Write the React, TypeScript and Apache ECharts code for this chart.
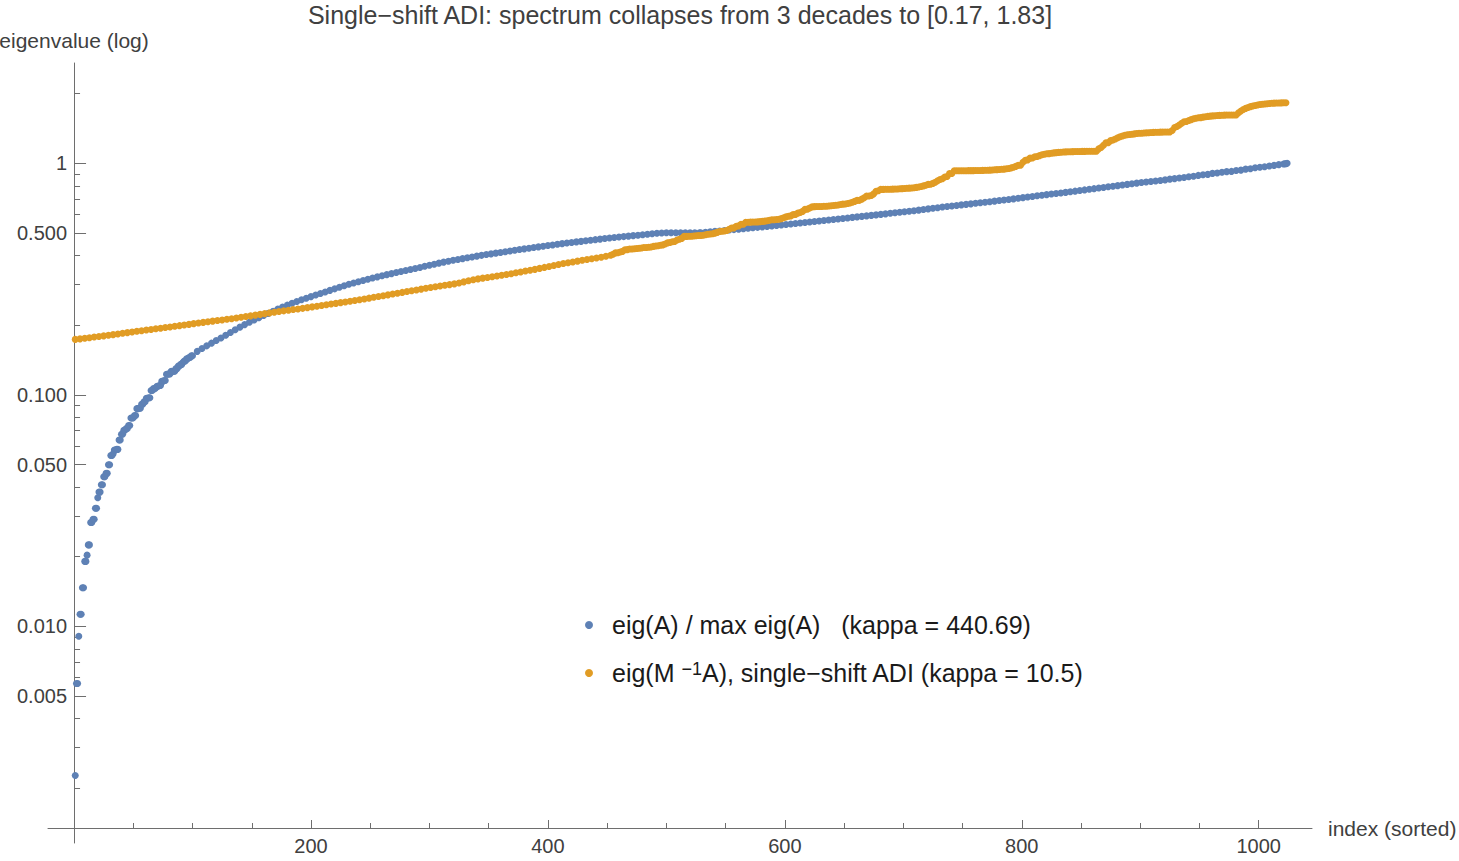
import React, { useEffect, useRef } from "react";
import * as echarts from "echarts";

const FONT = '"Liberation Sans", Arial, Helvetica, sans-serif';
const BLUE = "#5E81B5";
const ORANGE = "#E19C24";
const AXIS_GRAY = "#6E6E6E";
const LABEL_GRAY = "#404040";

const TITLE = "Single\u2212shift ADI: spectrum collapses from 3 decades to [0.17, 1.83]";
const BLUE_NAME = "eig(A) / max eig(A)   (kappa = 440.69)";
const ORANGE_NAME = "eig(M \u22121A), single\u2212shift ADI (kappa = 10.5)";

// eig(A) / max eig(A), sorted ascending. Ranks 1..100, one value per rank.
const blueLow = [
  0.002269, 0.005663, 0.005663, 0.009056, 0.01128, 0.01128, 0.01468, 0.01468, 0.01908, 0.01908,
  0.0203, 0.02248, 0.02248, 0.0281, 0.0281, 0.02899, 0.02899, 0.03238, 0.03238, 0.0359,
  0.038, 0.038, 0.04091, 0.04091, 0.04431, 0.04431, 0.0458, 0.0458, 0.04993, 0.04993,
  0.05474, 0.05474, 0.0557, 0.05773, 0.05773, 0.05813, 0.05813, 0.06376, 0.06376, 0.06763,
  0.06763, 0.07036, 0.07036, 0.07155, 0.07155, 0.07375, 0.07375, 0.07937, 0.07937, 0.07955,
  0.08146, 0.08146, 0.08717, 0.08717, 0.08762, 0.08762, 0.09101, 0.09101, 0.09338, 0.09338,
  0.09663, 0.09663, 0.09707, 0.09707, 0.1044, 0.1044, 0.1064, 0.1064, 0.1072, 0.109,
  0.109, 0.1098, 0.1098, 0.1143, 0.1143, 0.1154, 0.1154, 0.1228, 0.1228, 0.1232,
  0.1232, 0.1263, 0.1263, 0.1264, 0.1264, 0.1298, 0.1298, 0.1331, 0.1331, 0.1354,
  0.1354, 0.1384, 0.1401, 0.1401, 0.1432, 0.1432, 0.145, 0.145, 0.1476, 0.1476,
];
// Ranks 104..528, every 4th rank.
const BLUE_MID_START = 104;
const BLUE_MID_STEP = 4;
const blueMid = [
  0.1541, 0.1585, 0.1628, 0.1672, 0.1716, 0.176, 0.181, 0.186, 0.1911, 0.1961,
  0.2011, 0.2059, 0.2106, 0.2154, 0.2201, 0.2249, 0.2297, 0.2345, 0.2393, 0.244,
  0.2488, 0.2532, 0.2574, 0.2615, 0.2657, 0.2699, 0.274, 0.2783, 0.2827, 0.287,
  0.2914, 0.2958, 0.3002, 0.3041, 0.3079, 0.3118, 0.3156, 0.3195, 0.3233, 0.327,
  0.3305, 0.3339, 0.3374, 0.3409, 0.3443, 0.3478, 0.3513, 0.3551, 0.359, 0.3628,
  0.3667, 0.3706, 0.3744, 0.3779, 0.3811, 0.3844, 0.3876, 0.3908, 0.394, 0.3973,
  0.4005, 0.4035, 0.4064, 0.4094, 0.4123, 0.4153, 0.4182, 0.4212, 0.4242, 0.4271,
  0.4299, 0.4328, 0.4356, 0.4385, 0.4414, 0.4442, 0.4471, 0.4499, 0.4526, 0.4552,
  0.4578, 0.4603, 0.4629, 0.4655, 0.4681, 0.4706, 0.4732, 0.4758, 0.4781, 0.4804,
  0.4826, 0.4849, 0.4872, 0.4894, 0.4917, 0.494, 0.4963, 0.4985, 0.5005, 0.5011,
  0.5011, 0.5011, 0.5011, 0.5011, 0.5011, 0.5011, 0.5011,
];
// Ranks 529..1021, every 4th rank.
const BLUE_HIGH_START = 529;
const BLUE_HIGH_STEP = 4;
const blueHigh = [
  0.5018, 0.5038, 0.506, 0.5083, 0.5106, 0.5129, 0.5151, 0.5174, 0.5197, 0.5219,
  0.5242, 0.5265, 0.5291, 0.5317, 0.5342, 0.5368, 0.5394, 0.542, 0.5445, 0.5471,
  0.5497, 0.5524, 0.5552, 0.5581, 0.5609, 0.5638, 0.5667, 0.5695, 0.5724, 0.5752,
  0.5781, 0.5811, 0.5841, 0.587, 0.59, 0.5929, 0.5959, 0.5988, 0.6018, 0.605,
  0.6083, 0.6115, 0.6147, 0.6179, 0.6212, 0.6244, 0.6279, 0.6317, 0.6356, 0.6395,
  0.6433, 0.6472, 0.651, 0.6545, 0.658, 0.6614, 0.6649, 0.6684, 0.6718, 0.6753,
  0.679, 0.6828, 0.6867, 0.6905, 0.6944, 0.6982, 0.7021, 0.7065, 0.7109, 0.7153,
  0.7196, 0.724, 0.7283, 0.7324, 0.7366, 0.7408, 0.7449, 0.7491, 0.7535, 0.7583,
  0.763, 0.7678, 0.7726, 0.7774, 0.7822, 0.7869, 0.7917, 0.7964, 0.8012, 0.8062,
  0.8112, 0.8163, 0.8213, 0.8263, 0.8307, 0.8351, 0.8395, 0.8438, 0.8482, 0.8547,
  0.859, 0.8638, 0.8692, 0.8759, 0.8791, 0.8869, 0.8925, 0.8959, 0.9052, 0.9089,
  0.9147, 0.9208, 0.9229, 0.9307, 0.9346, 0.9441, 0.9475, 0.9565, 0.9614, 0.9664,
  0.9733, 0.9798, 0.9876, 0.9932,
];
// Ranks 1022..1024.
const BLUE_TOP_START = 1022;
const blueTop = [0.9966, 0.9966, 1];

// eig(M^-1 A) for the single-shift ADI preconditioner, sorted ascending.
// Ranks 1..449, every 4th rank.
const ORANGE_LOW_START = 1;
const ORANGE_LOW_STEP = 4;
const orangeLow = [
  0.1736, 0.1745, 0.1756, 0.1766, 0.1777, 0.1788, 0.1798, 0.1809, 0.182, 0.1832,
  0.1844, 0.1857, 0.1869, 0.1881, 0.1893, 0.1905, 0.1917, 0.1929, 0.1941, 0.1953,
  0.1964, 0.1977, 0.199, 0.2003, 0.2016, 0.203, 0.2043, 0.2056, 0.2069, 0.2082,
  0.2094, 0.2107, 0.212, 0.2132, 0.2147, 0.2163, 0.2179, 0.2194, 0.221, 0.2226,
  0.2243, 0.2259, 0.2275, 0.2291, 0.2306, 0.2321, 0.2335, 0.235, 0.2364, 0.2381,
  0.2398, 0.2415, 0.2432, 0.2449, 0.2467, 0.2484, 0.2502, 0.252, 0.2538, 0.2557,
  0.2576, 0.2595, 0.2616, 0.2638, 0.266, 0.2681, 0.2703, 0.2725, 0.2747, 0.277,
  0.2793, 0.2816, 0.2839, 0.2862, 0.2885, 0.2907, 0.2928, 0.295, 0.2972, 0.2993,
  0.3015, 0.3043, 0.3076, 0.3108, 0.314, 0.3169, 0.3192, 0.3215, 0.3237, 0.326,
  0.3283, 0.3308, 0.3337, 0.3366, 0.3396, 0.3425, 0.3454, 0.3484, 0.3517, 0.3552,
  0.3587, 0.3622, 0.3657, 0.3691, 0.3721, 0.3751, 0.3781, 0.3811, 0.3841, 0.3871,
  0.3901, 0.3931, 0.3967,
];
// Ranks 453..1023, every 2nd rank.
const ORANGE_HIGH_START = 453;
const ORANGE_HIGH_STEP = 2;
const orangeHigh = [
  0.4006, 0.4051, 0.4105, 0.4106, 0.414, 0.4167, 0.4236, 0.424, 0.4265, 0.4269,
  0.4275, 0.4284, 0.4296, 0.4311, 0.4327, 0.4329, 0.4338, 0.4351, 0.4377, 0.4393,
  0.4408, 0.443, 0.4444, 0.4486, 0.4535, 0.4553, 0.4582, 0.4593, 0.4661, 0.47,
  0.4741, 0.4835, 0.4837, 0.4839, 0.4844, 0.4853, 0.4863, 0.4877, 0.4879, 0.4893,
  0.4913, 0.4936, 0.495, 0.4964, 0.4996, 0.5034, 0.5078, 0.5087, 0.51, 0.513,
  0.5192, 0.5253, 0.5264, 0.535, 0.5369, 0.5452, 0.5458, 0.5564, 0.5567, 0.5572,
  0.5576, 0.5578, 0.5588, 0.5599, 0.5613, 0.563, 0.565, 0.5674, 0.5702, 0.5707,
  0.5725, 0.5734, 0.5772, 0.5817, 0.587, 0.5909, 0.5932, 0.6006, 0.602, 0.6094,
  0.6134, 0.62, 0.6328, 0.6342, 0.6416, 0.6486, 0.6503, 0.6505, 0.6509, 0.6514,
  0.6521, 0.653, 0.6541, 0.6555, 0.6571, 0.6589, 0.6611, 0.6637, 0.6667, 0.6679,
  0.6702, 0.6744, 0.6793, 0.6851, 0.692, 0.6921, 0.7004, 0.7105, 0.7228, 0.723,
  0.7262, 0.7382, 0.7573, 0.7619, 0.7719, 0.772, 0.7723, 0.7726, 0.7731, 0.7737,
  0.7744, 0.7753, 0.7763, 0.7775, 0.779, 0.7806, 0.7814, 0.7826, 0.7849, 0.7876,
  0.7908, 0.7946, 0.7991, 0.8046, 0.8112, 0.8122, 0.8193, 0.8292, 0.8417, 0.852,
  0.8574, 0.8723, 0.8775, 0.9035, 0.9044, 0.929, 0.9291, 0.9292, 0.9293, 0.9294,
  0.9296, 0.9298, 0.9301, 0.9304, 0.9308, 0.9312, 0.9318, 0.9324, 0.9331, 0.9339,
  0.9349, 0.9361, 0.9375, 0.9392, 0.9413, 0.9435, 0.9438, 0.9469, 0.9507, 0.9556,
  0.9619, 0.97, 0.9803, 0.9804, 1.011, 1.0314, 1.0353, 1.0531, 1.0541, 1.0686,
  1.071, 1.0798, 1.0887, 1.0956, 1.101, 1.1012, 1.1057, 1.1094, 1.1125, 1.115,
  1.1171, 1.1189, 1.1205, 1.1217, 1.1228, 1.1238, 1.1246, 1.1253, 1.1258, 1.1263,
  1.1267, 1.1271, 1.1273, 1.1275, 1.1277, 1.1277, 1.1548, 1.1708, 1.1964, 1.2281,
  1.2286, 1.2538, 1.2618, 1.2738, 1.2898, 1.3028, 1.3134, 1.3221, 1.3294, 1.3321,
  1.3354, 1.3406, 1.3449, 1.3486, 1.3498, 1.3518, 1.3544, 1.3567, 1.3587, 1.3603,
  1.3617, 1.3629, 1.3638, 1.3646, 1.3652, 1.3656, 1.3658, 1.3866, 1.4293, 1.4436,
  1.4631, 1.49, 1.512, 1.5165, 1.53, 1.5447, 1.557, 1.5673, 1.5735, 1.576,
  1.5833, 1.5895, 1.5949, 1.5994, 1.6033, 1.6066, 1.6094, 1.6117, 1.6137, 1.6153,
  1.6166, 1.6175, 1.6182, 1.6186, 1.6186, 1.6546, 1.684, 1.7079, 1.7277, 1.7441,
  1.7578, 1.7694, 1.7792, 1.7875, 1.7947, 1.8007, 1.8059, 1.8103, 1.814, 1.8172,
  1.8198, 1.822, 1.8237, 1.825, 1.8259, 1.8264,
];

// Axis ticks.
const yMajorTicks = [0.005, 0.01, 0.05, 0.1, 0.5, 1];
const yMajorLabels = ["0.005", "0.010", "0.050", "0.100", "0.500", "1"];
const yMinorTicks = [
  0.002, 0.003, 0.004, 0.006, 0.007, 0.008, 0.009,
  0.02, 0.03, 0.04, 0.06, 0.07, 0.08, 0.09,
  0.2, 0.3, 0.4, 0.6, 0.7, 0.8, 0.9, 2,
];
const xMajorTicks = [200, 400, 600, 800, 1000];
const xMinorTicks = [50, 100, 150, 250, 300, 350, 450, 500, 550, 650, 700, 750, 850, 900, 950];

const X_MIN = -22;
const X_MAX = 1045;
const Y_MIN = 0.001159;
const Y_MAX = 2.713;

const CHART_W = 1459;
const CHART_H = 861;
const GRID_LEFT = 48;
const GRID_RIGHT = 147;
const PLOT_W = CHART_W - GRID_LEFT - GRID_RIGHT;
// The vertical axis crosses the horizontal one at index 0.
const Y_AXIS_SHIFT = -((0 - X_MIN) / (X_MAX - X_MIN)) * PLOT_W;

function ranked(values: number[], start: number, step: number): [number, number][] {
  return values.map((v, i) => [start + step * i, v]);
}

function yLabel(v: number): string {
  const i = yMajorTicks.findIndex((t) => Math.abs(t - v) / t < 1e-6);
  return i >= 0 ? yMajorLabels[i] : "";
}

export default function App() {
  const ref = useRef<HTMLDivElement>(null);

  useEffect(() => {
    if (!ref.current) return;
    const chart = echarts.init(ref.current, undefined, { renderer: "svg" });

    const blueData = [
      ...ranked(blueLow, 1, 1),
      ...ranked(blueMid, BLUE_MID_START, BLUE_MID_STEP),
      ...ranked(blueHigh, BLUE_HIGH_START, BLUE_HIGH_STEP),
      ...ranked(blueTop, BLUE_TOP_START, 1),
    ];
    const orangeData = [
      ...ranked(orangeLow, ORANGE_LOW_START, ORANGE_LOW_STEP),
      ...ranked(orangeHigh, ORANGE_HIGH_START, ORANGE_HIGH_STEP),
    ];

    const line = { color: AXIS_GRAY, width: 1 };
    const tickText = { fontFamily: FONT, fontSize: 20, color: LABEL_GRAY };
    const nameText = { fontFamily: FONT, fontSize: 21, color: LABEL_GRAY };

    chart.setOption({
      animation: false,
      backgroundColor: "#ffffff",
      textStyle: { fontFamily: FONT },
      grid: {
        left: GRID_LEFT,
        right: GRID_RIGHT,
        top: 63,
        bottom: 18,
        containLabel: false,
        outerBoundsMode: "none",
      },
      xAxis: [
        {
          type: "value",
          position: "bottom",
          min: X_MIN,
          max: X_MAX,
          offset: -15,
          axisLine: { show: true, onZero: false, lineStyle: line },
          axisTick: { show: true, inside: true, length: 8, customValues: xMajorTicks, lineStyle: line },
          axisLabel: {
            show: true,
            customValues: xMajorTicks,
            margin: 8,
            formatter: (v: number) => String(v),
            ...tickText,
          },
          splitLine: { show: false },
          name: "index (sorted)",
          nameLocation: "end",
          nameGap: 16,
          nameTextStyle: nameText,
        },
        {
          type: "value",
          position: "bottom",
          min: X_MIN,
          max: X_MAX,
          offset: -15,
          axisLine: { show: false, onZero: false },
          axisTick: { show: true, inside: true, length: 5, customValues: xMinorTicks, lineStyle: line },
          axisLabel: { show: false },
          splitLine: { show: false },
        },
      ],
      yAxis: [
        {
          type: "log",
          logBase: 10,
          position: "left",
          min: Y_MIN,
          max: Y_MAX,
          offset: Y_AXIS_SHIFT,
          axisLine: { show: true, onZero: false, lineStyle: line },
          axisTick: { show: true, inside: true, length: 12, customValues: yMajorTicks, lineStyle: line },
          axisLabel: {
            show: true,
            customValues: yMajorTicks,
            margin: 7,
            formatter: (v: number) => yLabel(v),
            ...tickText,
          },
          splitLine: { show: false },
          name: "eigenvalue (log)",
          nameLocation: "end",
          nameGap: 12,
          nameTextStyle: nameText,
        },
        {
          type: "log",
          logBase: 10,
          position: "left",
          min: Y_MIN,
          max: Y_MAX,
          offset: Y_AXIS_SHIFT,
          axisLine: { show: false, onZero: false },
          axisTick: { show: true, inside: true, length: 6, customValues: yMinorTicks, lineStyle: line },
          axisLabel: { show: false },
          splitLine: { show: false },
        },
      ],
      legend: {
        show: true,
        orient: "vertical",
        left: 585,
        top: 612,
        padding: 0,
        itemWidth: 36,
        itemHeight: 8,
        itemGap: 22,
        icon: "circle",
        selectedMode: false,
        data: [
          { name: BLUE_NAME, itemStyle: { color: BLUE } },
          { name: ORANGE_NAME, itemStyle: { color: ORANGE } },
        ],
        formatter: (name: string) =>
          name === ORANGE_NAME
            ? "{n|eig(M }{s|\u22121}{n|A), single\u2212shift ADI (kappa = 10.5)}"
            : `{n|${name}}`,
        textStyle: {
          fontFamily: FONT,
          fontSize: 25,
          color: "#1a1a1a",
          lineHeight: 26,
          rich: {
            n: { fontFamily: FONT, fontSize: 25, lineHeight: 26, color: "#1a1a1a" },
            s: { fontFamily: FONT, fontSize: 18, lineHeight: 17, verticalAlign: "top", color: "#1a1a1a" },
          },
        },
      },
      graphic: [
        {
          type: "text",
          x: 680,
          y: 15,
          silent: true,
          style: {
            text: TITLE,
            fontFamily: FONT,
            fontSize: 25,
            fill: LABEL_GRAY,
            textAlign: "center",
            textVerticalAlign: "middle",
          },
        },
      ],
      series: [
        {
          type: "scatter",
          name: BLUE_NAME,
          xAxisIndex: 0,
          yAxisIndex: 0,
          data: blueData,
          symbol: "circle",
          symbolSize: 7,
          itemStyle: { color: BLUE, opacity: 1 },
          emphasis: { disabled: true },
          silent: true,
          z: 2,
        },
        {
          type: "scatter",
          name: ORANGE_NAME,
          xAxisIndex: 0,
          yAxisIndex: 0,
          data: orangeData,
          symbol: "circle",
          symbolSize: 7,
          itemStyle: { color: ORANGE, opacity: 1 },
          emphasis: { disabled: true },
          silent: true,
          z: 2,
        },
      ],
    });

    return () => chart.dispose();
  }, []);

  return (
    <div
      ref={ref}
      style={{ position: "absolute", left: 0, top: 0, width: CHART_W, height: CHART_H }}
    />
  );
}
